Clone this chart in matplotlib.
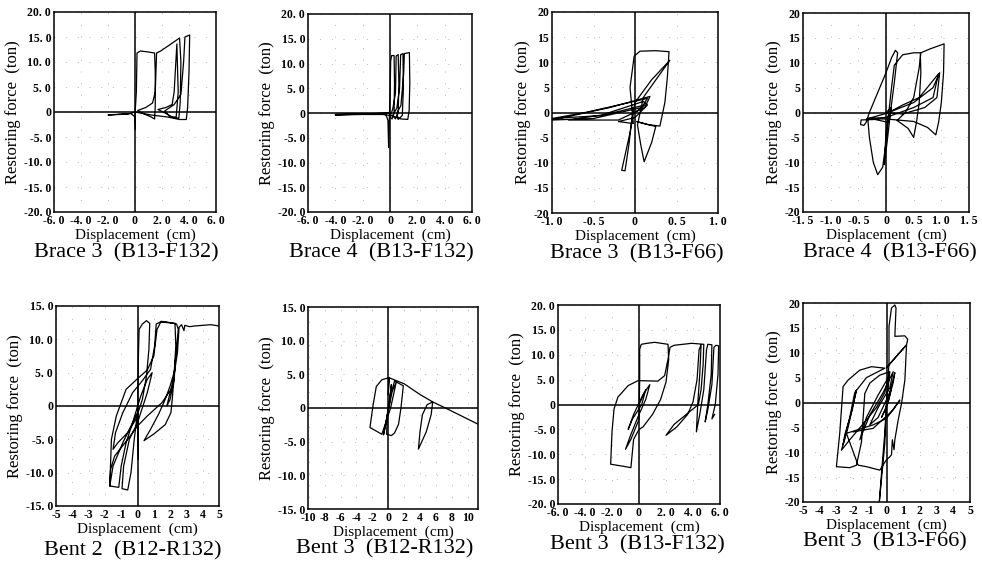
import matplotlib
matplotlib.use("Agg")
import matplotlib.pyplot as plt

# ---------------- data (displacement cm, restoring force ton) ----------------
brace3_f132 = [(0.0, 0.0), (-0.5, -0.4), (-1.2, -0.5), (-2.0, -0.6), (-1.0, -0.4), (-0.3, -0.3),
               (0.0, -1.0), (0.03, -3.5), (0.0, -0.5), (0.1, 4.0), (0.15, 11.8), (0.4, 12.2),
               (1.0, 12.0), (1.45, 11.8), (1.5, 8.0), (1.5, 1.0), (1.45, -1.4), (1.2, -1.0),
               (0.6, -0.3), (0.2, 0.3), (0.8, 0.9), (1.3, 1.8), (1.5, 4.0), (1.6, 11.8),
               (1.9, 12.2), (2.5, 13.3), (3.3, 14.8), (3.4, 10.0), (3.35, 2.0), (3.25, -1.2),
               (2.9, -1.2), (2.3, -0.3), (1.7, 0.5), (2.3, 0.9), (2.75, 1.5), (2.9, 4.0),
               (3.1, 13.6), (3.2, 4.0), (3.05, -1.0), (2.6, -1.0), (2.2, 0.2), (2.9, 1.5),
               (3.4, 3.5), (3.6, 10.0), (3.7, 15.0), (4.05, 15.4), (4.0, 8.0), (3.9, 1.0),
               (3.8, -1.5), (3.3, -1.5), (2.4, -1.0), (1.2, -0.6), (0.4, -0.2), (0.0, 0.0)]

brace4_f132 = [(0.0, 0.0), (-1.0, -0.1), (-2.5, -0.2), (-4.0, -0.3), (-3.0, -0.2), (-1.5, -0.2),
               (-0.3, -0.3), (-0.15, -1.5), (-0.1, -7.0), (-0.05, -1.0), (0.0, 3.0), (0.05, 10.5),
               (0.12, 11.6), (0.3, 11.6), (0.33, 6.0), (0.3, 0.0), (0.15, -1.2), (0.0, -0.8),
               (0.2, 0.8), (0.4, 4.0), (0.45, 11.5), (0.6, 11.8), (0.65, 6.0), (0.6, 0.0),
               (0.4, -1.2), (0.2, -0.5), (0.5, 1.0), (0.7, 5.0), (0.78, 11.8), (0.95, 12.0),
               (0.98, 5.0), (0.9, -0.5), (0.6, -1.3), (0.5, 0.0), (0.8, 1.5), (1.0, 8.0),
               (1.05, 12.0), (1.42, 12.2), (1.45, 6.0), (1.4, 0.5), (1.3, -1.3), (0.8, -1.2),
               (0.2, -0.6), (-0.5, -0.3), (-2.0, -0.3), (-4.0, -0.4), (-2.0, -0.2), (0.0, 0.0)]

brace3_f66 = [(0.0, 0.0), (0.12, 1.5), (-0.4, -0.6), (-1.0, -1.2), (-0.6, 0.0), (0.15, 2.8),
              (0.08, 1.0), (-0.5, -1.2), (-1.0, -1.5), (-0.3, 1.0), (0.18, 3.2), (0.12, 1.0),
              (-0.2, -1.5), (-0.8, -1.5), (-0.4, -0.5), (0.1, 2.2), (0.15, 1.5), (0.0, -1.0),
              (-0.2, -1.8), (-0.02, -2.2), (-0.06, 5.0), (-0.01, 11.2), (0.06, 12.2),
              (0.25, 12.3), (0.41, 12.1), (0.39, 7.0), (0.36, 2.0), (0.3, -2.7), (0.15, -2.4),
              (0.02, -1.8), (0.25, -2.8), (0.2, -6.0), (0.11, -9.8), (0.07, -6.5), (0.03, -2.5),
              (0.1, 3.0), (0.42, 10.4), (0.2, 6.5), (0.0, 2.0), (-0.06, -4.0), (-0.16, -11.5),
              (-0.12, -11.6), (-0.07, -6.0), (-0.03, 0.0), (0.0, 0.0)]

brace4_f66 = [(0.0, 0.0), (0.1, 1.0), (0.05, -2.0), (-0.2, -1.4), (-0.45, -1.5), (-0.46, -2.4),
              (-0.4, -2.6), (-0.36, -2.0), (-0.3, 0.0), (-0.15, 4.0), (0.0, 8.0), (0.1, 11.0),
              (0.17, 12.5), (0.21, 12.0), (0.15, 6.0), (0.08, 0.0), (0.03, -5.0), (-0.03, -10.5),
              (0.0, -4.0), (0.05, 0.0), (0.3, 1.5), (0.6, 3.0), (0.95, 7.8), (0.85, 3.0),
              (0.5, 1.0), (0.0, -1.0), (-0.33, -1.2), (-0.3, -5.0), (-0.23, -10.0), (-0.15, -12.5),
              (-0.06, -11.0), (0.0, -6.0), (0.05, 0.0), (0.1, 5.0), (0.15, 9.5), (0.3, 11.6),
              (0.5, 12.0), (0.62, 12.0), (0.63, 8.0), (0.6, 2.0), (0.55, -2.0), (0.5, -5.0),
              (0.4, -3.2), (0.2, -1.6), (0.35, 0.0), (0.5, 3.0), (0.6, 9.0), (0.63, 12.0),
              (0.8, 12.8), (1.05, 13.8), (1.04, 8.0), (1.0, 2.0), (0.95, -2.0), (0.9, -4.5),
              (0.75, -3.0), (0.5, -1.8), (0.0, -1.3), (-0.35, -1.3), (0.0, -0.2), (0.5, 2.0),
              (0.85, 5.0), (0.97, 8.0), (0.92, 3.0), (0.7, 1.0), (0.3, -0.3), (0.0, 0.0)]

bent2_r132 = [(0.0, 0.0), (0.05, -8.0), (0.02, 2.0), (0.06, 8.0), (0.1, 11.5), (0.3, 12.3),
              (0.55, 12.8), (0.75, 12.4), (0.7, 8.5), (0.55, 4.5), (0.3, 1.0), (-0.1, -2.0),
              (-0.6, -4.0), (-1.2, -5.5), (-1.5, -6.5), (-1.35, -4.0), (-0.9, -1.0), (-0.3, 2.0),
              (0.3, 3.8), (0.8, 5.5), (1.05, 9.0), (1.15, 12.3), (1.4, 12.6), (2.3, 12.4),
              (2.35, 9.0), (2.25, 5.0), (2.15, 1.5), (2.05, -1.0), (1.7, -2.8), (1.0, -4.2),
              (0.4, -5.2), (0.8, -3.5), (1.3, -1.2), (1.7, 1.0), (2.0, 3.0), (2.3, 5.5),
              (2.2, 3.0), (1.5, 0.5), (0.6, -1.5), (0.0, -3.0), (-0.6, -5.0), (-1.4, -7.5),
              (-1.65, -9.5), (-1.7, -12.0), (-1.15, -12.2), (-1.0, -9.0), (-0.7, -5.5),
              (-0.3, -2.5), (0.2, 1.5), (0.6, 4.0), (0.9, 5.0), (0.6, 2.0), (0.0, -2.5),
              (-0.5, -5.0), (-0.85, -9.0), (-0.95, -12.4), (-0.6, -12.6), (-0.4, -10.0),
              (-0.2, -5.0), (0.0, -1.0), (-0.9, -5.5), (-1.5, -9.0), (-1.7, -12.0), (-1.6, -5.0),
              (-1.3, -1.5), (-0.7, 2.5), (0.0, 4.1), (0.6, 5.4), (1.0, 7.5), (1.2, 11.5),
              (1.45, 12.7), (1.8, 12.6), (2.4, 12.3), (2.5, 11.5), (2.2, 3.5), (2.0, 1.0),
              (1.8, 0.0), (2.2, 4.0), (2.45, 8.0), (2.55, 11.8), (2.7, 12.2), (2.85, 11.3),
              (2.9, 12.1), (3.2, 11.9), (3.5, 12.0), (4.0, 12.1), (4.5, 12.2), (5.0, 12.0)]

bent3_r132 = [(0.0, 0.0), (0.4, 3.5), (0.2, 1.0), (-0.4, -3.0), (-0.6, -4.0), (-0.2, -1.5),
              (0.3, 2.0), (0.8, 4.0), (1.9, 3.3), (1.6, 0.0), (1.3, -2.4), (0.8, -3.7),
              (0.4, -4.1), (-0.2, -3.9), (-0.1, -1.0), (0.5, 2.5), (1.0, 3.8), (0.3, 0.0),
              (-0.8, -3.9), (-2.3, -2.9), (-1.9, 0.5), (-1.5, 3.2), (-0.8, 4.2), (-0.2, 4.4),
              (0.1, 4.5), (0.0, 2.0), (0.1, 4.5), (2.0, 3.6), (4.0, 2.0), (5.6, 0.9),
              (5.4, -1.0), (4.8, -3.5), (3.8, -6.1), (4.0, -3.5), (4.3, -1.0), (4.9, 0.5),
              (5.6, 0.9), (7.2, 0.0), (11.3, -2.4)]

bent3_f132 = [(0.0, 0.0), (0.5, 3.0), (0.2, 0.0), (-0.5, -3.0), (-0.8, -5.0), (-0.4, -2.0),
              (0.3, 2.0), (0.8, 4.0), (0.5, 1.0), (0.0, -2.0), (-0.6, -6.0), (-1.0, -9.0),
              (-0.6, -7.0), (0.0, -3.0), (0.05, 5.0), (0.05, 11.1), (0.17, 12.1), (0.6, 12.3),
              (1.16, 12.5), (2.15, 12.1), (2.2, 9.0), (2.0, 4.5), (1.6, 1.0), (1.0, -2.0),
              (0.3, -4.5), (0.0, -5.0), (-0.4, -7.0), (-0.6, -12.7), (-1.2, -12.4), (-2.1, -12.0),
              (-2.0, -5.5), (-1.85, -0.9), (-1.56, 1.5), (-0.8, 3.8), (-0.07, 4.8), (1.4, 4.7),
              (1.9, 5.8), (2.15, 9.1), (2.3, 11.5), (2.6, 11.9), (3.9, 12.3), (4.8, 12.1),
              (4.75, 8.0), (4.6, 3.0), (4.4, 0.0), (3.5, -2.0), (2.6, -4.0), (2.0, -6.2),
              (2.8, -4.5), (3.6, -2.0), (4.0, 0.5), (4.3, 5.0), (4.45, 11.0), (4.6, 12.0),
              (4.5, 6.0), (4.35, 0.0), (4.25, -5.5), (4.5, -2.0), (4.8, 3.0), (5.0, 11.0),
              (5.1, 12.1), (5.4, 12.0), (5.35, 6.0), (5.1, 0.0), (4.9, -3.5), (5.1, -1.0),
              (5.4, 4.0), (5.55, 11.5), (5.7, 11.9), (5.9, 11.8), (5.85, 6.0), (5.65, 0.0),
              (5.4, -2.9), (5.6, -2.0)]

bent3_f66 = [(0.0, 0.0), (0.3, 3.0), (0.1, 0.0), (-0.3, -3.0), (0.0, -1.0), (0.4, 4.0),
             (0.5, 6.0), (0.2, 2.0), (-0.5, -3.0), (-1.0, -4.5), (-0.5, -1.0), (0.2, 3.0),
             (0.4, 6.2), (-0.2, 2.0), (-1.0, -2.5), (-1.6, -7.5), (-1.2, -3.0), (-0.5, 1.5),
             (0.1, 5.0), (-0.1, 2.0), (-0.6, -1.0), (-1.2, -3.5), (-2.2, -7.5), (-2.7, -9.6),
             (-2.3, -5.0), (-1.9, 1.0), (-1.8, 2.5), (-2.1, -2.0), (-2.5, -6.5), (-2.6, -8.5),
             (-2.2, -3.0), (-1.9, 2.0), (-1.2, 5.0), (-0.1, 6.9), (-0.9, 7.2), (-1.6, 6.5),
             (-2.3, 4.5), (-2.6, 3.2), (-2.8, -6.2), (-3.0, -12.9), (-2.2, -13.1), (-1.8, -12.6),
             (-1.5, -8.0), (-1.3, 1.8), (-1.0, 3.9), (-0.4, 5.5), (0.2, 6.2), (0.0, 0.0),
             (-0.1, -8.2), (-0.43, -20.0), (-0.3, -14.3), (-0.1, -6.0), (0.0, 0.0), (0.15, 8.0),
             (0.15, 15.3), (0.3, 19.0), (0.5, 19.6), (0.57, 19.0), (0.5, 13.3), (1.1, 13.4),
             (1.27, 12.7), (1.2, 11.6), (0.0, 7.0), (1.2, 11.6), (1.1, 4.5), (0.9, -0.2),
             (0.7, -3.5), (0.5, -7.5), (0.45, -9.5), (0.35, -7.5), (0.3, -10.5), (0.2, -10.9),
             (0.0, -11.5), (-0.4, -13.6), (-1.2, -12.9), (-1.7, -12.6), (-2.4, -6.2),
             (-0.8, -4.5), (0.0, -3.2), (0.8, 0.5), (0.4, -1.5), (-0.8, -5.2), (-2.0, -5.9)]

# ---------------- ticks ----------------
ticks_6 = [-6, -4, -2, 0, 2, 4, 6]
labels_6 = ["-6. 0", "-4. 0", "-2. 0", "0", "2. 0", "4. 0", "6. 0"]
ticks_20 = [-20, -15, -10, -5, 0, 5, 10, 15, 20]
labels_20f = ["-20. 0", "-15. 0", "-10. 0", "-5. 0", "0", "5. 0", "10. 0", "15. 0", "20. 0"]
labels_20i = ["-20", "-15", "-10", "-5", "0", "5", "10", "15", "20"]
ticks_1 = [-1.0, -0.5, 0, 0.5, 1.0]
labels_1 = ["-1. 0", "-0. 5", "0", "0. 5", "1. 0"]
ticks_15 = [-1.5, -1.0, -0.5, 0, 0.5, 1.0, 1.5]
labels_15 = ["-1. 5", "-1. 0", "-0. 5", "0", "0. 5", "1. 0", "1. 5"]
ticks_5 = [-5, -4, -3, -2, -1, 0, 1, 2, 3, 4, 5]
labels_5 = ["-5", "-4", "-3", "-2", "-1", "0", "1", "2", "3", "4", "5"]
ticks_10 = [-10, -8, -6, -4, -2, 0, 2, 4, 6, 8, 10]
labels_10 = ["-10", "-8", "-6", "-4", "-2", "0", "2", "4", "6", "8", "10"]
ticks_y15 = [-15, -10, -5, 0, 5, 10, 15]
labels_y15 = ["-15. 0", "-10. 0", "-5. 0", "0", "5. 0", "10. 0", "15. 0"]

titles = ["Brace 3  (B13-F132)", "Brace 4  (B13-F132)", "Brace 3  (B13-F66)",
          "Brace 4  (B13-F66)", "Bent 2  (B12-R132)", "Bent 3  (B12-R132)",
          "Bent 3  (B13-F132)", "Bent 3  (B13-F66)"]

W, H = 982, 565
fig = plt.figure(figsize=(W / 100, H / 100), dpi=100)
fig.patch.set_facecolor("white")

SERIF = ["Liberation Serif", "DejaVu Serif"]

panels = [
    (brace3_f132, (54, 12, 216, 212), (-6, 6), (-20, 20), ticks_6, labels_6, ticks_20, labels_20f, (126, 253)),
    (brace4_f132, (308, 14, 472, 212), (-6, 6), (-20, 20), ticks_6, labels_6, ticks_20, labels_20f, (381, 253)),
    (brace3_f66, (552, 12, 718, 213), (-1, 1), (-20, 20), ticks_1, labels_1, ticks_20, labels_20i, (637, 254)),
    (brace4_f66, (803, 13, 969, 212), (-1.5, 1.5), (-20, 20), ticks_15, labels_15, ticks_20, labels_20i, (890, 253)),
    (bent2_r132, (56, 306, 219, 506), (-5, 5), (-15, 15), ticks_5, labels_5, ticks_y15, labels_y15, (133, 551)),
    (bent3_r132, (308, 307, 478, 509), (-10.1, 11.3), (-15, 15), ticks_10, labels_10, ticks_y15, labels_y15, (385, 549)),
    (bent3_f132, (558, 305, 720, 504), (-6, 6), (-20, 20), ticks_6, labels_6, ticks_20, labels_20f, (637, 545)),
    (bent3_f66, (803, 303, 970, 502), (-5, 5), (-20, 20), ticks_5, labels_5, ticks_20, labels_20i, (885, 542)),
]

for (data, (l, t, r, b), xl, yl, xt, xtl, yt, ytl, tpos), title in zip(panels, titles):
    ax = fig.add_axes([l / W, 1 - b / H, (r - l) / W, (b - t) / H])
    xs = [p[0] for p in data]
    ys = [p[1] for p in data]
    ax.axhline(0, color="black", lw=1.1, zorder=2)
    ax.axvline(0, color="black", lw=1.1, zorder=2)
    ax.plot(xs, ys, color="black", lw=0.9, zorder=3)
    ax.set_xlim(*xl)
    ax.set_ylim(*yl)
    ax.set_xticks(xt)
    ax.set_xticklabels(xtl)
    ax.set_yticks(yt)
    ax.set_yticklabels(ytl)
    ax.tick_params(length=0, pad=2, labelsize=8.5)
    for lab in ax.get_xticklabels() + ax.get_yticklabels():
        lab.set_family(SERIF)
        lab.set_weight("bold")
    ax.grid(True, color="0.72", linestyle=(0, (1, 11)), linewidth=0.7)
    for s in ax.spines.values():
        s.set_linewidth(1.1)
        s.set_color("black")
    ax.set_xlabel("Displacement  (cm)", family=SERIF, fontsize=11, labelpad=1)
    ax.set_ylabel("Restoring force  (ton)", family=SERIF, fontsize=12, labelpad=2)
    fig.text(tpos[0] / W, 1 - tpos[1] / H, title, family=SERIF, fontsize=16,
             ha="center", va="center")

fig.savefig("out.png", dpi=100, facecolor="white")
